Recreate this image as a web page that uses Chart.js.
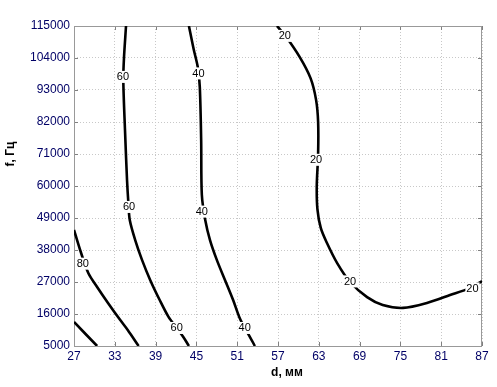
<!DOCTYPE html>
<html>
<head>
<meta charset="utf-8">
<script src="https://cdn.jsdelivr.net/npm/chart.js@4.4.0/dist/chart.umd.min.js"></script>
<style>
  html, body { margin: 0; padding: 0; background: #fff; }
  #wrap { width: 497px; height: 387px; }
</style>
</head>
<body>
<div id="wrap"><canvas id="contour"></canvas></div>
<script>
// axis ticks
var dTicks = [27, 33, 39, 45, 51, 57, 63, 69, 75, 81, 87];
var fTicks = [5000, 16000, 27000, 38000, 49000, 60000, 71000, 82000, 93000, 104000, 115000];

// contour lines: [d, f]
var level100 = [[27, 13250], [30.4, 5000]];
var level80 = [[27, 44900], [27.9, 38000], [29.1, 30100], [30.4, 25300], [32.0, 19800], [33.8, 13900],
               [34.9, 10500], [36.5, 5000]];
var level60 = [[34.65, 115000], [34.35, 104000], [34.25, 96400], [34.5, 79200], [34.8, 62000], [35.0, 54000],
               [35.2, 48300], [36.0, 41400], [37.0, 34600], [38.2, 27700], [39.6, 20800], [40.9, 15000],
               [42.1, 11200], [43.1, 8000], [43.9, 5000]];
var level40 = [[43.9, 115000], [44.6, 107000], [45.2, 100900], [45.5, 94000], [45.7, 75800], [45.8, 57000],
               [46.3, 48300], [47.0, 41400], [48.0, 34600], [49.2, 27700], [50.4, 20800], [51.3, 15000],
               [52.1, 11200], [52.9, 8000], [53.6, 5000]];
var level20 = [[56.85, 115000], [58.0, 111900], [60.2, 104300], [61.8, 97000], [62.6, 89600], [62.9, 82000],
               [62.9, 71000], [62.7, 60000], [62.8, 52000], [63.3, 45500], [64.2, 40400], [65.7, 33500],
               [67.6, 27000], [70.1, 21800], [72.4, 19100], [75.4, 18100], [78.9, 19800], [82.3, 22500],
               [85.2, 24900], [87, 27300]];

// inline labels: [d, f, text]
var contourLabels = [
  [34.2, 97500, "60"], [35.1, 52800, "60"], [42.1, 11200, "60"],
  [45.3, 98700, "40"], [45.8, 51200, "40"], [52.1, 11200, "40"],
  [28.3, 33300, "80"],
  [58.0, 111600, "20"], [62.6, 69000, "20"], [67.6, 27200, "20"], [85.6, 24800, "20"]
];

function toPoints(arr) {
  return arr.map(function (p) { return {x: p[0], y: p[1]}; });
}

function lineSet(arr) {
  return {
    data: toPoints(arr),
    showLine: true,
    borderColor: "#000",
    borderWidth: 2.6,
    pointRadius: 0,
    tension: 0.3,
    fill: false
  };
}

var decorPlugin = {
  id: "decor",
  beforeDatasetsDraw: function (chart) {
    var c = chart.ctx, a = chart.chartArea;
    var xs = chart.scales.x, ys = chart.scales.y;
    c.save();
    c.strokeStyle = "#808080";
    c.lineWidth = 1;
    c.beginPath();
    dTicks.forEach(function (v) {
      var px = Math.round(xs.getPixelForValue(v)) + 0.5;
      c.moveTo(px, a.bottom); c.lineTo(px, a.bottom - 4);
      c.moveTo(px, a.top); c.lineTo(px, a.top + 4);
    });
    fTicks.forEach(function (v) {
      var py = Math.round(ys.getPixelForValue(v)) + 0.5;
      c.moveTo(a.left, py); c.lineTo(a.left + 4, py);
      c.moveTo(a.right, py); c.lineTo(a.right - 4, py);
    });
    c.stroke();
    c.strokeStyle = "#999";
    c.strokeRect(a.left + 0.5, a.top + 0.5, a.right - a.left - 1, a.bottom - a.top);
    c.restore();
  },
  afterDatasetsDraw: function (chart) {
    var c = chart.ctx;
    var xs = chart.scales.x, ys = chart.scales.y;
    c.save();
    c.font = "11px 'Liberation Sans', Arial, sans-serif";
    c.textAlign = "center";
    c.textBaseline = "middle";
    contourLabels.forEach(function (l) {
      var px = xs.getPixelForValue(l[0]), py = ys.getPixelForValue(l[1]);
      var w = c.measureText(l[2]).width;
      c.fillStyle = "#fff";
      c.fillRect(px - w / 2 - 1, py - 6, w + 2, 12);
      c.fillStyle = "#000";
      c.fillText(l[2], px, py + 0.5);
    });
    // axis titles
    c.font = "bold 12px 'Liberation Sans', Arial, sans-serif";
    c.fillText("d, мм", 287, 373);
    c.translate(11, 154);
    c.rotate(-Math.PI / 2);
    c.fillText("f, Гц", 0, 0);
    c.restore();
  }
};

var ctx = document.getElementById("contour").getContext("2d");
var chart = new Chart(ctx, {
  type: "scatter",
  data: {
    datasets: [lineSet(level100), lineSet(level80), lineSet(level60), lineSet(level40), lineSet(level20)]
  },
  options: {
    responsive: true,
    maintainAspectRatio: false,
    animation: false,
    layout: {padding: {top: 26, right: 15, left: 0, bottom: 0}},
    plugins: {legend: {display: false}, tooltip: {enabled: false}},
    scales: {
      x: {
        type: "linear",
        min: 27, max: 87,
        afterFit: function (s) { s.height = 41; },
        afterBuildTicks: function (s) { s.ticks = dTicks.map(function (v) { return {value: v}; }); },
        grid: {color: "#c8c8c8", drawTicks: false},
        border: {display: false, dash: [1, 2]},
        ticks: {color: "#000066", padding: 3, maxRotation: 0, font: {family: "'Liberation Sans', Arial", size: 12}}
      },
      y: {
        type: "linear",
        min: 5000, max: 115000,
        afterFit: function (s) { s.width = 74; },
        afterBuildTicks: function (s) { s.ticks = fTicks.map(function (v) { return {value: v}; }); },
        grid: {color: "#c8c8c8", drawTicks: false},
        border: {display: false, dash: [1, 2]},
        ticks: {color: "#000066", padding: 4, font: {family: "'Liberation Sans', Arial", size: 12},
                callback: function (v) { return String(v); }}
      }
    }
  },
  plugins: [decorPlugin]
});
</script>
</body>
</html>
